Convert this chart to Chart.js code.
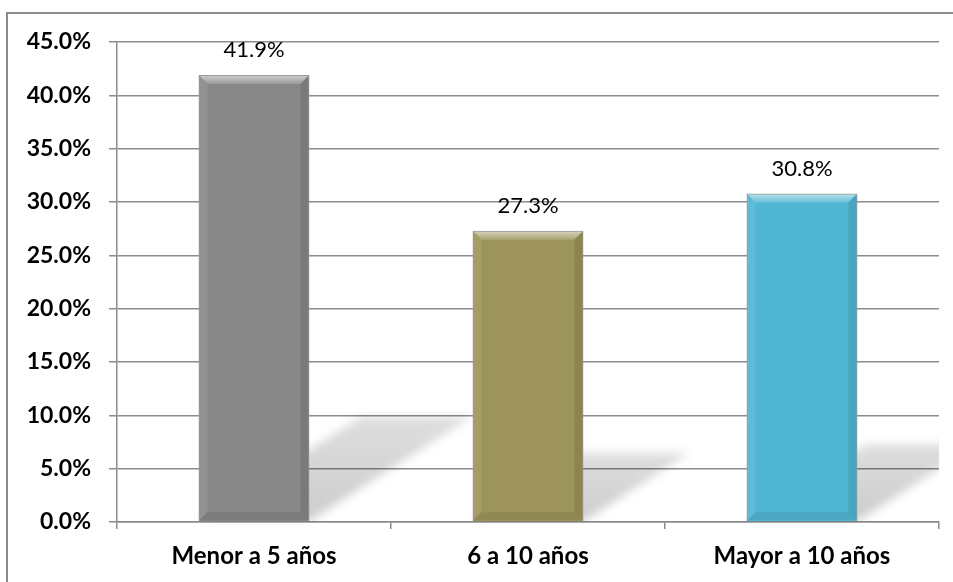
<!DOCTYPE html>
<html>
<head>
<meta charset="utf-8">
<script src="https://cdn.jsdelivr.net/npm/chart.js@4"></script>
<style>
  html, body { margin: 0; padding: 0; background: #fff; }
  #wrap { width: 953px; height: 582px; position: relative; }
</style>
</head>
<body>
<div id="wrap"><canvas id="chart" width="953" height="582"></canvas></div>
<script>
// ── datos ──
const categories = ['Menor a 5 años', '6 a 10 años', 'Mayor a 10 años'];
const values     = [41.9, 27.3, 30.8];
const barColors  = ['#878787', '#9c945b', '#51b6d3'];
const yTicks     = [0, 5, 10, 15, 20, 25, 30, 35, 40, 45];

const FONT = 'Lato, "Open Sans", "DejaVu Sans", sans-serif';

function shade(hex, amt) {
  const n = parseInt(hex.slice(1), 16);
  let r = (n >> 16) & 255, g = (n >> 8) & 255, b = n & 255;
  const f = c => amt >= 0 ? Math.round(c + (255 - c) * amt) : Math.round(c * (1 + amt));
  return `rgb(${f(r)},${f(g)},${f(b)})`;
}

// marco exterior
const framePlugin = {
  id: 'frame',
  beforeDraw(chart) {
    const ctx = chart.ctx;
    ctx.save();
    ctx.strokeStyle = '#8c8c8c';
    ctx.lineWidth = 2;
    ctx.strokeRect(7, 13, 980, 620);
    ctx.restore();
  }
};

// sombra oblicua detrás de cada barra
const shadowPlugin = {
  id: 'barShadow',
  beforeDatasetsDraw(chart) {
    const ctx = chart.ctx;
    const area = chart.chartArea;
    const meta = chart.getDatasetMeta(0);
    ctx.save();
    ctx.beginPath();
    ctx.rect(area.left, area.top, area.right - area.left, area.bottom - area.top);
    ctx.clip();
    ctx.filter = 'blur(5px)';
    meta.data.forEach(bar => {
      const x0 = bar.x - bar.width / 2, x1 = bar.x + bar.width / 2;
      const base = bar.base, h = (base - bar.y) * 0.235;
      const shift = h * 1.55;
      const g = ctx.createLinearGradient(0, base, 0, base - h);
      g.addColorStop(0, 'rgba(0,0,0,0.2)');
      g.addColorStop(1, 'rgba(0,0,0,0.13)');
      ctx.fillStyle = g;
      ctx.beginPath();
      ctx.moveTo(x0, base);
      ctx.lineTo(x1, base);
      ctx.lineTo(x1 + shift, base - h);
      ctx.lineTo(x0 + shift, base - h);
      ctx.closePath();
      ctx.fill();
    });
    ctx.restore();
  }
};

// bisel de las barras y etiquetas de valor
const bevelPlugin = {
  id: 'bevel',
  afterDatasetsDraw(chart) {
    const ctx = chart.ctx;
    const meta = chart.getDatasetMeta(0);
    const b = 8;
    ctx.save();
    meta.data.forEach((bar, i) => {
      const x0 = bar.x - bar.width / 2 + 1, x1 = bar.x + bar.width / 2 - 1;
      const y0 = bar.y + 1, y1 = bar.base - 1;
      const c = barColors[i];
      const poly = (pts, fill) => {
        ctx.beginPath();
        ctx.moveTo(pts[0][0], pts[0][1]);
        pts.slice(1).forEach(p => ctx.lineTo(p[0], p[1]));
        ctx.closePath();
        ctx.fillStyle = fill;
        ctx.fill();
      };
      const top = ctx.createLinearGradient(0, y0, 0, y0 + b);
      top.addColorStop(0, shade(c, 0.55));
      top.addColorStop(1, shade(c, 0.15));
      poly([[x0, y0], [x1, y0], [x1 - b, y0 + b], [x0 + b, y0 + b]], top);
      poly([[x0, y0], [x0 + b, y0 + b], [x0 + b, y1 - b], [x0, y1]], shade(c, 0.08));
      poly([[x1, y0], [x1, y1], [x1 - b, y1 - b], [x1 - b, y0 + b]], shade(c, -0.1));
      poly([[x0, y1], [x0 + b, y1 - b], [x1 - b, y1 - b], [x1, y1]], shade(c, -0.08));
    });
    ctx.fillStyle = '#000';
    ctx.font = '22px ' + FONT;
    ctx.textAlign = 'center';
    ctx.textBaseline = 'bottom';
    meta.data.forEach((bar, i) => {
      ctx.fillText(values[i].toFixed(1) + '%', bar.x, bar.y - 14);
    });
    ctx.restore();
  }
};

new Chart(document.getElementById('chart'), {
  type: 'bar',
  data: {
    labels: categories,
    datasets: [{
      data: values,
      backgroundColor: barColors,
      borderColor: '#9a9a9a',
      borderWidth: 1.5,
      categoryPercentage: 1,
      barPercentage: 0.405,
    }]
  },
  options: {
    responsive: false,
    animation: false,
    layout: { padding: { left: 0, top: 42, right: 14, bottom: 0 } },
    plugins: { legend: { display: false }, tooltip: { enabled: false } },
    scales: {
      x: {
        afterFit: s => { s.height = 60; },
        grid: { offset: true, drawOnChartArea: false, drawTicks: true, tickLength: 7, color: '#8c8c8c', lineWidth: 1.5 },
        border: { color: '#8c8c8c', width: 1.5 },
        ticks: { color: '#000', padding: 13, font: { family: FONT, size: 24, weight: 'bold' } }
      },
      y: {
        min: 0, max: 45,
        afterFit: s => { s.width = 117; },
        afterBuildTicks: s => { s.ticks = yTicks.map(v => ({ value: v })); },
        grid: { color: '#8c8c8c', lineWidth: 1.5, tickLength: 8 },
        border: { color: '#8c8c8c', width: 1.5 },
        ticks: { color: '#000', padding: 18, font: { family: FONT, size: 23, weight: 'bold' }, callback: v => v.toFixed(1) + '%' }
      }
    }
  },
  plugins: [framePlugin, shadowPlugin, bevelPlugin]
});
</script>
</body>
</html>
